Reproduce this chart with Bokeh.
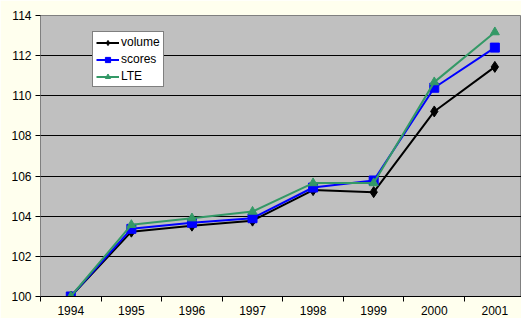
from bokeh.plotting import figure
from bokeh.models import Range1d, FixedTicker, Legend, LegendItem
from bokeh.embed import file_html
from bokeh.resources import INLINE

years = ["1994", "1995", "1996", "1997", "1998", "1999", "2000", "2001"]
volume = [100.0, 103.23, 103.53, 103.78, 105.3, 105.2, 109.22, 111.44]
scores = [100.0, 103.37, 103.67, 103.9, 105.43, 105.78, 110.4, 112.4]
lte = [100.0, 103.57, 103.9, 104.23, 105.65, 105.65, 110.68, 113.17]
y_ticks = [100, 102, 104, 106, 108, 110, 112, 114]

xs = list(range(len(years)))

p = figure(width=521, height=318, output_backend="svg", toolbar_location=None,
           x_range=Range1d(-0.5, 7.44), y_range=Range1d(100, 114),
           min_border_left=40, min_border_right=0, min_border_top=15, min_border_bottom=22)
p.background_fill_color = "#c0c0c0"
p.border_fill_color = "#ffffee"
p.outline_line_color = "#808080"
p.outline_line_width = 1

p.xgrid.grid_line_color = None
p.ygrid.grid_line_color = "black"
p.ygrid.grid_line_width = 1
p.ygrid.ticker = FixedTicker(ticks=y_ticks)

p.yaxis.ticker = FixedTicker(ticks=y_ticks)
p.yaxis.axis_line_color = "#808080"
p.yaxis.major_tick_line_color = "black"
p.yaxis.major_tick_out = 5
p.yaxis.major_tick_in = 0
p.yaxis.minor_tick_line_color = None
p.yaxis.major_label_text_font = "Liberation Sans"
p.yaxis.major_label_text_font_size = "12px"
p.yaxis.major_label_text_color = "black"
p.yaxis.major_label_standoff = 4

p.xaxis.ticker = FixedTicker(ticks=xs, minor_ticks=[x - 0.5 for x in range(len(years) + 1)])
p.xaxis.major_label_overrides = {i: y for i, y in enumerate(years)}
p.xaxis.axis_line_color = "black"
p.xaxis.major_tick_line_color = None
p.xaxis.minor_tick_line_color = "black"
p.xaxis.minor_tick_out = 5
p.xaxis.minor_tick_in = 0
p.xaxis.major_label_text_font = "Liberation Sans"
p.xaxis.major_label_text_font_size = "12px"
p.xaxis.major_label_text_color = "black"
p.xaxis.major_label_standoff = 3

c_vol, c_sc, c_lte = "black", "#0000ff", "#339966"
l1 = p.line(xs, volume, line_color=c_vol, line_width=2)
m1 = p.scatter(xs, volume, marker="diamond", size=11, color=c_vol)
l2 = p.line(xs, scores, line_color=c_sc, line_width=2)
m2 = p.scatter(xs, scores, marker="square", size=9, color=c_sc)
l3 = p.line(xs, lte, line_color=c_lte, line_width=2)
m3 = p.scatter(xs, lte, marker="triangle", size=9, color=c_lte)

legend = Legend(items=[LegendItem(label="volume", renderers=[l1, m1]),
                       LegendItem(label="scores", renderers=[l2, m2]),
                       LegendItem(label="LTE", renderers=[l3, m3])],
                location=(52, 209))
legend.background_fill_color = "white"
legend.background_fill_alpha = 1
legend.border_line_color = "black"
legend.border_line_width = 1
legend.label_text_font = "Liberation Sans"
legend.label_text_font_size = "12px"
legend.label_text_color = "black"
legend.glyph_width = 23
legend.glyph_height = 13
legend.label_height = 13
legend.spacing = 3
legend.padding = 3
legend.margin = 0
legend.label_standoff = 2
p.add_layout(legend, "center")

open("out.html", "w").write(file_html(p, INLINE))
